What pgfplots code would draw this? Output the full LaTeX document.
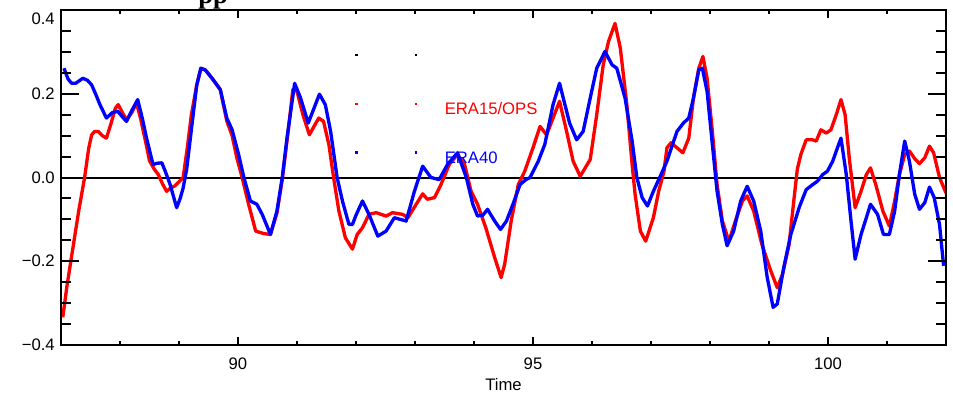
\documentclass[border=0pt]{standalone}
\usepackage{fontspec}
\setmainfont{Liberation Sans}
\newfontfamily\titlefont{Liberation Serif}
\usepackage{pgfplots}
\pgfplotsset{compat=1.18}
\usepackage{pgfplotstable}

% ERA15/OPS index
\pgfplotstableread{
t v
87.03 -0.334
87.10 -0.26
87.20 -0.17
87.30 -0.08
87.40 0.0
87.47 0.07
87.52 0.102
87.57 0.11
87.63 0.11
87.70 0.10
87.77 0.094
87.85 0.13
87.92 0.165
87.97 0.174
88.04 0.155
88.11 0.138
88.20 0.155
88.28 0.178
88.35 0.14
88.45 0.075
88.50 0.04
88.58 0.02
88.65 0.007
88.72 -0.015
88.79 -0.033
88.86 -0.025
88.93 -0.02
89.00 -0.01
89.07 0.0
89.14 0.07
89.21 0.15
89.30 0.22
89.37 0.26
89.445 0.257
89.56 0.237
89.70 0.21
89.81 0.135
89.90 0.10
89.98 0.047
90.07 0.0
90.18 -0.064
90.30 -0.128
90.44 -0.134
90.55 -0.136
90.66 -0.085
90.75 -0.005
90.85 0.11
90.93 0.21
91.00 0.206
91.10 0.15
91.21 0.102
91.30 0.125
91.37 0.142
91.45 0.134
91.54 0.079
91.62 0.0
91.71 -0.08
91.82 -0.144
91.94 -0.171
92.02 -0.136
92.11 -0.12
92.22 -0.088
92.34 -0.084
92.51 -0.092
92.62 -0.084
92.79 -0.088
92.88 -0.096
93.02 -0.064
93.13 -0.039
93.21 -0.052
93.33 -0.048
93.44 -0.017
93.58 0.031
93.72 0.055
93.84 0.031
93.95 -0.033
94.06 -0.064
94.20 -0.12
94.35 -0.191
94.46 -0.239
94.52 -0.207
94.63 -0.104
94.75 -0.017
94.86 0.015
95.00 0.071
95.12 0.122
95.23 0.102
95.34 0.142
95.45 0.182
95.57 0.11
95.68 0.039
95.80 0.003
95.97 0.043
96.08 0.15
96.19 0.269
96.28 0.325
96.39 0.368
96.48 0.309
96.59 0.174
96.68 0.031
96.73 -0.04
96.82 -0.128
96.91 -0.152
97.04 -0.096
97.13 -0.033
97.22 0.015
97.27 0.071
97.34 0.083
97.44 0.071
97.54 0.059
97.64 0.094
97.72 0.19
97.81 0.261
97.88 0.289
97.95 0.237
98.04 0.11
98.12 -0.017
98.21 -0.104
98.32 -0.152
98.43 -0.104
98.55 -0.056
98.63 -0.044
98.74 -0.08
98.88 -0.16
99.03 -0.223
99.14 -0.263
99.23 -0.231
99.34 -0.16
99.42 -0.056
99.48 0.02
99.54 0.055
99.63 0.09
99.74 0.09
99.80 0.087
99.88 0.114
99.97 0.106
100.05 0.114
100.14 0.15
100.22 0.186
100.29 0.15
100.36 0.047
100.46 -0.072
100.56 -0.033
100.65 0.007
100.72 0.023
100.81 -0.017
100.93 -0.08
101.04 -0.116
101.13 -0.056
101.21 0.007
101.30 0.055
101.38 0.063
101.47 0.045
101.55 0.033
101.64 0.047
101.72 0.075
101.79 0.059
101.89 0.0
102.00 -0.037
}\eraops

% ERA40 index
\pgfplotstableread{
t v
87.05 0.261
87.12 0.235
87.18 0.225
87.25 0.225
87.37 0.237
87.45 0.232
87.52 0.221
87.60 0.195
87.66 0.174
87.77 0.142
87.87 0.155
87.96 0.158
88.04 0.145
88.11 0.134
88.20 0.16
88.30 0.186
88.38 0.14
88.45 0.094
88.56 0.031
88.63 0.034
88.71 0.035
88.78 0.01
88.85 -0.017
88.96 -0.072
89.02 -0.05
89.07 -0.025
89.13 0.02
89.24 0.15
89.30 0.22
89.37 0.261
89.445 0.257
89.56 0.237
89.70 0.21
89.81 0.142
89.90 0.114
90.01 0.055
90.10 0.0
90.21 -0.056
90.32 -0.064
90.41 -0.088
90.55 -0.136
90.66 -0.08
90.75 0.0
90.83 0.094
90.96 0.225
91.06 0.19
91.19 0.13
91.29 0.166
91.38 0.199
91.48 0.174
91.57 0.11
91.68 0.0
91.77 -0.056
91.88 -0.112
91.94 -0.112
92.00 -0.09
92.11 -0.056
92.22 -0.088
92.37 -0.14
92.51 -0.128
92.65 -0.096
92.75 -0.10
92.85 -0.104
92.99 -0.033
93.13 0.027
93.27 0.0
93.41 -0.005
93.55 0.031
93.72 0.059
93.87 0.0
93.98 -0.064
94.06 -0.092
94.15 -0.09
94.23 -0.076
94.35 -0.104
94.45 -0.124
94.55 -0.104
94.66 -0.064
94.78 -0.017
94.88 -0.005
94.95 0.0
95.09 0.039
95.20 0.079
95.34 0.174
95.45 0.225
95.62 0.13
95.74 0.09
95.85 0.11
95.97 0.19
96.08 0.261
96.22 0.301
96.34 0.269
96.42 0.261
96.56 0.19
96.68 0.087
96.76 0.0
96.85 -0.048
96.94 -0.068
97.04 -0.033
97.16 0.004
97.27 0.039
97.44 0.11
97.55 0.13
97.64 0.142
97.72 0.19
97.81 0.257
97.87 0.261
97.95 0.206
98.04 0.079
98.12 -0.033
98.21 -0.112
98.29 -0.163
98.40 -0.128
98.52 -0.056
98.63 -0.021
98.74 -0.056
98.86 -0.128
98.97 -0.239
99.07 -0.31
99.14 -0.302
99.25 -0.215
99.37 -0.136
99.45 -0.10
99.51 -0.072
99.63 -0.029
99.74 -0.017
99.82 -0.009
99.91 0.007
99.99 0.015
100.08 0.039
100.16 0.071
100.22 0.094
100.31 0.007
100.39 -0.104
100.46 -0.195
100.56 -0.136
100.65 -0.096
100.72 -0.064
100.84 -0.088
100.94 -0.136
101.04 -0.136
101.13 -0.08
101.21 0.007
101.30 0.087
101.38 0.039
101.47 -0.04
101.55 -0.076
101.64 -0.06
101.72 -0.023
101.80 -0.048
101.89 -0.112
101.96 -0.211
}\eraforty

\begin{document}
\begin{tikzpicture}
\pgfplotsset{
  panel/.style={
    scale only axis, width=663.75pt, height=251.25pt,
    at={(0pt,0pt)}, anchor=south west,
    xmin=87, xmax=102, ymin=-0.4, ymax=0.4,
    axis line style={line width=1.5pt},
    tick style={black, line width=1.5pt},
    tick align=inside,
    tick label style={font=\fontsize{12.5}{14}\selectfont},
    label style={font=\fontsize{12.5}{14}\selectfont},
  },
}
% data, x ticks and the Time label
\begin{axis}[panel,
  ytick=\empty,
  xtick={90,95,100}, xticklabels={90,95,100},
  minor xtick={88,89,91,92,93,94,96,97,98,99,101},
  major tick length=6pt, minor tick length=3pt,
  xticklabel style={anchor=center, inner sep=0pt, yshift=-13.9pt},
  xlabel={Time},
  xlabel style={at={(axis description cs:0.5,0)}, anchor=center, inner sep=0pt, yshift=-30pt},
]
  \addplot[black, line width=1.5pt] coordinates {(87,0) (102,0)};
  \addplot[red, line width=2.5pt, line join=round] table[x=t, y=v] {\eraops};
  \addplot[blue, line width=2.5pt, line join=round] table[x=t, y=v] {\eraforty};
  % legend samples
  \addplot[only marks, mark=square*, mark size=0.6pt, black] coordinates {(92.0,0.293) (93.01,0.293)};
  \addplot[only marks, mark=square*, mark size=0.6pt, red] coordinates {(92.0,0.176) (93.01,0.176)};
  \addplot[only marks, mark=square*, mark size=0.6pt, blue] coordinates {(92.0,0.060) (93.01,0.060)};
  \node[anchor=west, inner sep=0pt, red, font=\fontsize{12.5}{14}\selectfont] at (axis cs:93.50,0.1655) {ERA15/OPS};
  \node[anchor=west, inner sep=0pt, blue, font=\fontsize{12.5}{14}\selectfont] at (axis cs:93.50,0.0464) {ERA40};
\end{axis}
% y ticks and labels
\begin{axis}[panel,
  xtick=\empty,
  ytick={-0.4,-0.2,0,0.2}, yticklabels={−0.4,−0.2,0.0,0.2},
  extra y ticks={0.4}, extra y tick labels={0.4},
  extra y tick style={yticklabel style={yshift=-6.75pt}},
  minor ytick={-0.35,-0.3,-0.25,-0.15,-0.1,-0.05,0.05,0.1,0.15,0.25,0.3,0.35},
  major tick length=13.5pt, minor tick length=7.5pt,
  yticklabel style={anchor=east, inner sep=0pt, xshift=-4.5pt},
]
\end{axis}
% title line, running off the top edge
\node[anchor=base west, inner sep=0pt, font=\titlefont\bfseries\fontsize{20}{24}\selectfont] at (102.75pt,255.75pt) {pp};
\pgfresetboundingbox
\useasboundingbox (-45.75pt,-36pt) rectangle (669pt,258.75pt);
\end{tikzpicture}
\end{document}
